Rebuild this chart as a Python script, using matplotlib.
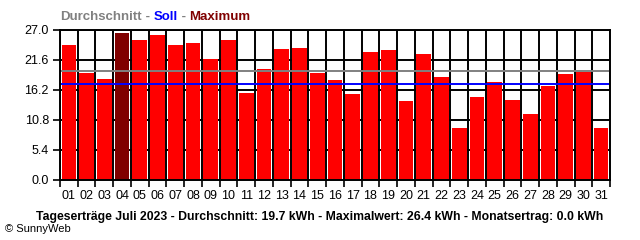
import matplotlib
matplotlib.use("Agg")
import matplotlib.pyplot as plt
import numpy as np

days = [f"{i:02d}" for i in range(1, 32)]
values = [24.3, 19.3, 18.2, 26.4, 25.2, 26.1, 24.3, 24.7, 21.8, 25.2,
          15.7, 20.0, 23.6, 23.8, 19.3, 18.0, 15.5, 23.0, 23.4, 14.2,
          22.7, 18.5, 9.4, 14.9, 17.6, 14.4, 11.9, 16.9, 19.1, 19.5, 9.4]
average = 19.6
target = 17.2
yticks = [0.0, 5.4, 10.8, 16.2, 21.6, 27.0]

FONT = "Liberation Sans"
fig = plt.figure(figsize=(6.4, 2.4), dpi=100)
ax = fig.add_axes([60/640, 60/240, 550/640, 150/240])

n = len(values)
imax = int(np.argmax(values))
colors = ["#800000" if i == imax else "#FF0000" for i in range(n)]
x = np.arange(n)
ax.bar(x, values, width=0.83, color=colors, zorder=2)

for y in yticks[1:]:
    ax.axhline(y, color="black", lw=1.4, zorder=1)
for b in np.arange(-0.5, n, 1.0):
    ax.axvline(b, color="black", lw=1.4, zorder=1)

ax.axhline(average, color="#808080", lw=1.4, zorder=3)
ax.axhline(target, color="#0000FF", lw=1.4, zorder=3)

ax.set_xlim(-0.5, n - 0.5)
ax.set_ylim(0, 27.0)
ax.set_yticks(yticks)
ax.set_yticklabels([f"{v:.1f}" for v in yticks], fontsize=9, family=FONT)
ax.set_xticks(np.arange(-0.5, n, 1.0))
ax.set_xticklabels([])
ax.set_xticks(x, minor=True)
ax.set_xticklabels(days, minor=True, fontsize=9, family=FONT)
ax.tick_params(axis="x", which="major", length=5, width=1.2, direction="out")
ax.tick_params(axis="x", which="minor", length=0, pad=7)
ax.tick_params(axis="y", length=5, width=1.2, direction="out", pad=3)
for s in ax.spines.values():
    s.set_linewidth(1.4)
    s.set_zorder(4)

# Legend title
t1 = fig.text(60/640, 1 - 17/240, "Durchschnitt", color="#808080", fontsize=9.5,
              fontweight="bold", va="center", ha="left", family=FONT)
fig.canvas.draw()
r = fig.canvas.get_renderer()
parts = [(" - ", "#808080"), ("Soll", "#0000FF"), (" - ", "#808080"), ("Maximum", "#800000")]
prev = t1
for txt, col in parts:
    bb = prev.get_window_extent(r)
    prev = fig.text(bb.x1 / 640, 1 - 17/240, txt, color=col, fontsize=9.5,
                    fontweight="bold", va="center", ha="left", family=FONT)
    fig.canvas.draw()

bt = fig.text(320/640, 1 - 217/240,
              "Tageserträge Juli 2023 - Durchschnitt: 19.7 kWh - Maximalwert: 26.4 kWh - Monatsertrag: 0.0 kWh",
              fontsize=9, fontweight="bold", ha="center", va="center", family=FONT)
fig.canvas.draw()
w = bt.get_window_extent(r).width
bt.set_fontsize(9 * 564 / w)
fig.text(5/640, 1 - 229/240, "© SunnyWeb", fontsize=8, ha="left", va="center", family=FONT)

fig.savefig("out.png", dpi=100)
